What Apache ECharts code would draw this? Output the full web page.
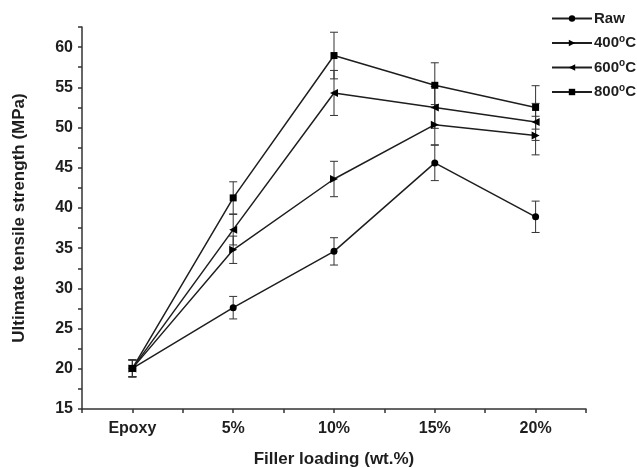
<!DOCTYPE html>
<html>
<head>
    <meta charset="utf-8">
    <script src="https://cdn.jsdelivr.net/npm/echarts@6/dist/echarts.min.js"></script>
    <style>
        html, body { margin: 0; padding: 0; background: #fff; }
        #container { width: 637px; height: 468px; }
    </style>
</head>
<body>
<div id="container"></div>
<script type="text/javascript">
    // 数据
    var categories = ['Epoxy', '5%', '10%', '15%', '20%'];
    var seriesNames = ['Raw', '400°C', '600°C', '800°C'];
    var rawVals = [20.05, 27.6, 34.6, 45.6, 38.9];
    var rawErr = [1.05, 1.4, 1.7, 2.2, 1.95];
    var c400Vals = [20.05, 34.8, 43.6, 50.35, 49.0];
    var c400Err = [1.05, 1.7, 2.2, 2.5, 2.4];
    var c600Vals = [20.05, 37.3, 54.3, 52.5, 50.7];
    var c600Err = [1.05, 1.9, 2.8, 2.6, 2.3];
    var c800Vals = [20.05, 41.25, 58.95, 55.25, 52.5];
    var c800Err = [1.05, 2.0, 2.9, 2.8, 2.7];
    var yTicks = [15, 20, 25, 30, 35, 40, 45, 50, 55, 60];

    var allVals = [rawVals, c400Vals, c600Vals, c800Vals];
    var allErr = [rawErr, c400Err, c600Err, c800Err];
    var symbols = ['circle', 'triangle', 'triangle', 'rect'];
    var rotates = [0, -90, 90, 0];
    var sizes = [7, 8, 8, 7];
    var ink = '#1e1e1e';
    var font = 'Liberation Sans, Arial, sans-serif';

    function toPoints(vals) {
        return vals.map(function (v, i) { return [i, v]; });
    }

    var series = [];
    // 误差棒
    allVals.forEach(function (vals, k) {
        var errData = vals.map(function (v, i) {
            return [i, v - allErr[k][i], v + allErr[k][i]];
        });
        series.push({
            type: 'custom',
            silent: true,
            z: 1,
            data: errData,
            renderItem: function (params, api) {
                var x = api.value(0);
                var lo = api.coord([x, api.value(1)]);
                var hi = api.coord([x, api.value(2)]);
                var cap = 4;
                var style = { stroke: '#333', lineWidth: 1 };
                return {
                    type: 'group',
                    children: [
                        { type: 'line', shape: { x1: lo[0], y1: lo[1], x2: hi[0], y2: hi[1] }, style: style },
                        { type: 'line', shape: { x1: lo[0] - cap, y1: lo[1], x2: lo[0] + cap, y2: lo[1] }, style: style },
                        { type: 'line', shape: { x1: hi[0] - cap, y1: hi[1], x2: hi[0] + cap, y2: hi[1] }, style: style }
                    ]
                };
            }
        });
    });
    // 折线
    allVals.forEach(function (vals, k) {
        series.push({
            name: seriesNames[k],
            type: 'line',
            z: 3,
            data: toPoints(vals),
            symbol: symbols[k],
            symbolSize: sizes[k],
            symbolRotate: rotates[k],
            showAllSymbol: true,
            lineStyle: { color: ink, width: 1.5 },
            itemStyle: { color: '#000', borderWidth: 0 }
        });
    });

    var myChart = echarts.init(document.getElementById('container'), null, { renderer: 'canvas' });
    var option = {
        animation: false,
        backgroundColor: '#fff',
        textStyle: { fontFamily: font },
        grid: { left: 82, right: 51, top: 27, bottom: 59, outerBoundsMode: 'none', containLabel: false },
        legend: {
            orient: 'vertical',
            left: 546,
            top: 6,
            itemGap: 8,
            itemWidth: 40,
            itemHeight: 8,
            data: seriesNames,
            formatter: function (name) {
                var m = name.match(/^(\d+)°C$/);
                if (m) return '{t|' + m[1] + '}{sup|o}{t|C}';
                return '{t|' + name + '}';
            },
            textStyle: {
                padding: [0, 0, 0, -3],
                rich: {
                    t: { fontSize: 15, fontWeight: 'bold', color: ink, fontFamily: font },
                    sup: { fontSize: 10, fontWeight: 'bold', color: ink, verticalAlign: 'top', padding: [0, 0, 8, 0], fontFamily: font }
                }
            }
        },
        xAxis: {
            type: 'value',
            min: -0.5,
            max: 4.5,
            interval: 0.5,
            name: 'Filler loading (wt.%)',
            nameLocation: 'middle',
            nameGap: 42,
            nameTextStyle: { fontSize: 17, fontWeight: 'bold', color: ink },
            splitLine: { show: false },
            axisLine: { onZero: false, lineStyle: { color: '#333', width: 1.5 } },
            axisTick: { inside: false, length: 4, lineStyle: { color: '#333', width: 1.5 } },
            axisLabel: {
                margin: 12,
                fontSize: 16,
                fontWeight: 'bold',
                color: ink,
                formatter: function (v) {
                    var i = Math.round(v);
                    return Math.abs(v - i) < 1e-6 && categories[i] ? categories[i] : '';
                }
            }
        },
        yAxis: {
            type: 'value',
            min: 15,
            max: 62.5,
            interval: 2.5,
            name: 'Ultimate tensile strength (MPa)',
            nameLocation: 'middle',
            nameGap: 54,
            nameTextStyle: { fontSize: 17, fontWeight: 'bold', color: ink },
            splitLine: { show: false },
            axisLine: { onZero: false, lineStyle: { color: '#333', width: 1.5 } },
            axisTick: { inside: false, length: 4, lineStyle: { color: '#333', width: 1.5 } },
            axisLabel: {
                margin: 9,
                fontSize: 16,
                fontWeight: 'bold',
                color: ink,
                formatter: function (v) {
                    return yTicks.indexOf(v) >= 0 ? String(v) : '';
                }
            }
        },
        series: series
    };
    myChart.setOption(option, true);
</script>
</body>
</html>
